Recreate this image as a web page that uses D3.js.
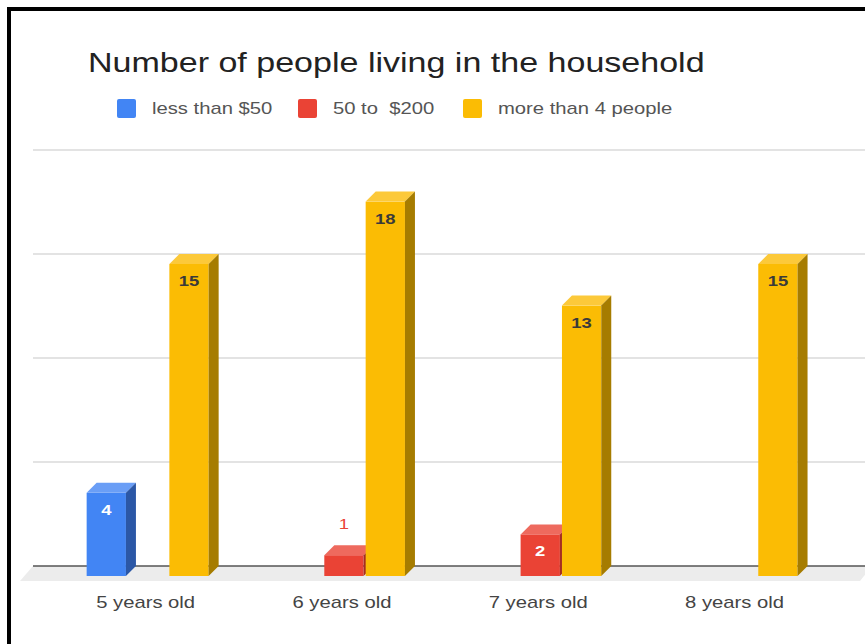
<!DOCTYPE html>
<html><head><meta charset="utf-8">
<script src="https://cdn.jsdelivr.net/npm/d3@7/dist/d3.min.js"></script>
<style>body{margin:0;background:#fff}svg{display:block;font-family:"Liberation Sans",Arial,sans-serif}</style>
</head><body><svg id="c" width="865" height="644"></svg>
<script>
const categories = ["5 years old","6 years old","7 years old","8 years old"];
const seriesNames = ["less than $50","50 to  $200","more than 4 people"];
const lessThan50 = [4,0,0,0];
const from50to200 = [0,1,2,0];
const moreThan4 = [15,18,13,15];
const yTicks = [0,5,10,15,20];
const title = "Number of people living in the household";

const seriesValues = [lessThan50, from50to200, moreThan4];
const colors = ["#4285F4","#EA4335","#FBBC04"];
const topColors = ["#6a9ef6","#ee6a5e","#fcc93a"];
const sideColors = ["#2b57a6","#a52d23","#a67c00"];
const labelColors = ["#ffffff","#ffffff","#3a3a3a"];

function stretch(sel, f){
  f = f || 1.19;
  sel.each(function(){
    const w = this.getComputedTextLength();
    d3.select(this).attr("textLength", w*f).attr("lengthAdjust","spacingAndGlyphs");
  });
  return sel;
}

const svg = d3.select("#c");
const D = 10; // 3D depth
const y = d3.scaleLinear().domain([0,20]).range([566,150]);
const x0 = d3.scaleBand().domain(categories).range([49.5,834.7]);
const x1 = d3.scaleBand().domain(seriesNames).range([-61,61]).paddingInner(0.05);

// border
svg.append("rect").attr("x",9).attr("y",9).attr("width",870).attr("height",650)
  .attr("fill","none").attr("stroke","#000").attr("stroke-width",4);

// title
stretch(svg.append("text").attr("x",88).attr("y",72).attr("font-size",28).attr("fill","#222")
  .style("white-space","pre").text(title), 1.215);

// legend
const legX = [117,298,463];
seriesNames.forEach((s,i)=>{
  svg.append("rect").attr("x",legX[i]).attr("y",99).attr("width",19).attr("height",19).attr("rx",2).attr("fill",colors[i]);
  stretch(svg.append("text").attr("x",legX[i]+35).attr("y",114).attr("font-size",17).attr("fill","#555")
    .style("white-space","pre").text(s));
});

// gridlines
svg.append("g").selectAll("line").data(yTicks.filter(t=>t>0)).join("line")
  .attr("x1",33).attr("x2",865).attr("y1",d=>y(d)).attr("y2",d=>y(d))
  .attr("stroke","#e3e3e3").attr("stroke-width",2);

// floor
const y0 = y(0);
svg.append("path").attr("d",`M33,${y0} L872,${y0} L860,${y0+15} L20,${y0+15} Z`).attr("fill","#ececec");
svg.append("line").attr("x1",33).attr("x2",865).attr("y1",y0).attr("y2",y0).attr("stroke","#555").attr("stroke-width",1.5);

// bars
const bw = x1.bandwidth();
categories.forEach((c,ci)=>{
  seriesValues.forEach((vals,si)=>{
    const v = vals[ci];
    if(!v) return;
    const bx = x0(c) + x0.bandwidth()/2 + x1(seriesNames[si]);
    const ty = y(v) + D, by = y0 + D;
    const g = svg.append("g");
    g.append("rect").attr("x",bx).attr("y",ty).attr("width",bw).attr("height",by-ty).attr("fill",colors[si]);
    g.append("path").attr("d",`M${bx},${ty} L${bx+D},${ty-D} L${bx+bw+D},${ty-D} L${bx+bw},${ty} Z`).attr("fill",topColors[si]);
    g.append("path").attr("d",`M${bx+bw},${ty} L${bx+bw+D},${ty-D} L${bx+bw+D},${y0} L${bx+bw},${by} Z`).attr("fill",sideColors[si]);
    const inside = (by-ty) > 28;
    stretch(g.append("text").attr("x",bx+bw/2).attr("y", inside ? ty+22 : ty-26)
      .attr("text-anchor","middle").attr("font-size",15.5)
      .attr("font-weight", inside ? "bold" : "normal")
      .attr("fill", inside ? labelColors[si] : colors[si]).text(v));
  });
});

// x labels
stretch(svg.append("g").selectAll("text").data(categories).join("text")
  .attr("x",d=>x0(d)+x0.bandwidth()/2 - 2).attr("y",608).attr("text-anchor","middle")
  .attr("font-size",17).attr("fill","#444").text(d=>d));
</script></body></html>
